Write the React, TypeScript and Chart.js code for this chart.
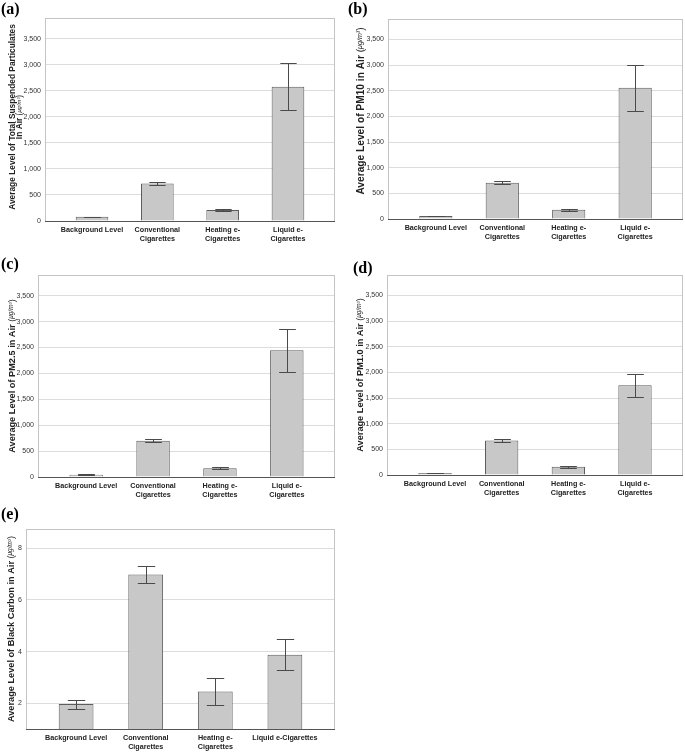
import React, { useEffect, useRef } from "react";
import { Chart, registerables } from "chart.js";
Chart.register(...registerables);

// ---------- data ----------
const categories = [["Background Level"], ["Conventional", "Cigarettes"], ["Heating e-", "Cigarettes"], ["Liquid e-", "Cigarettes"]];
const categoriesE = [["Background Level"], ["Conventional", "Cigarettes"], ["Heating e-", "Cigarettes"], ["Liquid e-Cigarettes"]];

const tspMean = [80, 720, 210, 2580];
const tspLow = [74, 685, 185, 2130];
const tspHigh = [86, 755, 235, 3030];

const pm10Mean = [58, 705, 180, 2560];
const pm10Low = [53, 675, 162, 2115];
const pm10High = [63, 737, 200, 3012];

const pm25Mean = [45, 698, 168, 2448];
const pm25Low = [40, 670, 146, 2025];
const pm25High = [50, 727, 190, 2858];

const pm1Mean = [38, 675, 160, 1750];
const pm1Low = [33, 648, 142, 1523];
const pm1High = [43, 700, 182, 1977];

const bcMean = [1.97, 6.99, 2.45, 3.88];
const bcLow = [1.79, 6.64, 1.92, 3.27];
const bcHigh = [2.14, 7.33, 2.98, 4.47];

const pmTicks = [0, 500, 1000, 1500, 2000, 2500, 3000, 3500];
const bcTicks = [2, 4, 6, 8];

const unitText = "μg/m³";

const FONT = "'Liberation Sans', Arial, sans-serif";

type PanelProps = {
  labels: string[][];
  mean: number[];
  low: number[];
  high: number[];
  yMin: number;
  yMax: number;
  yTicks: number[];
  cx: number; cy: number; cw: number; ch: number;
  L: number; T: number; R: number; B: number;
  title: string[];
  titleSize: number;
  titleGap: number;
  titleX: number;
  titleCY: number;
  letter: string;
  letterX: number;
  letterY: number;
};

function Panel(p: PanelProps) {
  const ref = useRef<HTMLCanvasElement | null>(null);
  useEffect(() => {
    const { cx, cy, cw, ch, L, T, R, B } = p;
    const errPlugin = {
      id: "errbars",
      afterDatasetsDraw(chart: any) {
        const ctx = chart.ctx;
        const meta = chart.getDatasetMeta(0);
        const y = chart.scales.y;
        ctx.save();
        ctx.strokeStyle = "#4a4a4a";
        ctx.lineWidth = 1;
        meta.data.forEach((bar: any, i: number) => {
          const x = Math.round(bar.x) + 0.5;
          const half = bar.width / 4;
          const yl = Math.round(y.getPixelForValue(p.low[i])) + 0.5;
          const yh = Math.round(y.getPixelForValue(p.high[i])) + 0.5;
          ctx.beginPath();
          ctx.moveTo(x, yh); ctx.lineTo(x, yl);
          ctx.moveTo(x - half, yh); ctx.lineTo(x + half, yh);
          ctx.moveTo(x - half, yl); ctx.lineTo(x + half, yl);
          ctx.stroke();
        });
        ctx.restore();
      },
    };
    const boxPlugin = {
      id: "box",
      afterDraw(chart: any) {
        const a = chart.chartArea;
        const ctx = chart.ctx;
        ctx.save();
        ctx.strokeStyle = "#c4c4c4";
        ctx.lineWidth = 1;
        ctx.strokeRect(Math.round(a.left) + 0.5, Math.round(a.top) + 0.5, Math.round(a.right - a.left) - 1, Math.round(a.bottom - a.top));
        ctx.strokeStyle = "#555";
        ctx.beginPath();
        ctx.moveTo(a.left, Math.round(a.bottom) + 0.5);
        ctx.lineTo(a.right, Math.round(a.bottom) + 0.5);
        ctx.stroke();
        // y title
        ctx.translate(p.titleX - cx, p.titleCY - cy);
        ctx.rotate(-Math.PI / 2);
        ctx.fillStyle = "#222";
        ctx.textBaseline = "middle";
        ctx.textAlign = "left";
        const s = p.titleSize;
        const mainFont = `bold ${s}px ${FONT}`;
        const parFont = `${s}px ${FONT}`;
        const uFont = `italic ${s * 0.7}px ${FONT}`;
        p.title.forEach((line, li) => {
          const last = li === p.title.length - 1;
          ctx.font = mainFont;
          const w1 = ctx.measureText(line + (last ? " " : "")).width;
          let w2 = 0, w3 = 0;
          if (last) {
            ctx.font = parFont; w2 = ctx.measureText("(").width * 2;
            ctx.font = uFont; w3 = ctx.measureText(unitText).width;
          }
          let x = -(w1 + w2 + w3) / 2;
          const yy = li * p.titleGap;
          ctx.font = mainFont;
          ctx.fillText(line + (last ? " " : ""), x, yy);
          x += w1;
          if (last) {
            ctx.font = parFont; ctx.fillText("(", x, yy); x += w2 / 2;
            ctx.font = uFont; ctx.fillText(unitText, x, yy - 0.5); x += w3;
            ctx.font = parFont; ctx.fillText(")", x, yy);
          }
        });
        ctx.restore();
      },
    };
    const chart = new Chart(ref.current as HTMLCanvasElement, {
      type: "bar",
      data: {
        datasets: [
          {
            data: p.mean.map((v, i) => ({ x: i, y: v })),
            backgroundColor: "#c8c8c8",
            borderColor: "#5c5c5c",
            borderWidth: 1,
            barPercentage: 0.5,
            categoryPercentage: 1,
            base: p.yMin,
          } as any,
        ],
      },
      options: {
        responsive: false,
        animation: false,
        devicePixelRatio: 1,
        layout: { padding: { top: T - cy, right: cx + cw - R, left: 0, bottom: 0 } },
        plugins: { legend: { display: false }, tooltip: { enabled: false } },
        scales: {
          x: {
            type: "linear",
            offset: false,
            min: -0.72,
            max: 3.72,
            afterBuildTicks: (s: any) => { s.ticks = p.labels.map((_, i) => ({ value: i })); },
            afterFit: (s: any) => { s.height = cy + ch - B; },
            grid: { display: false, drawTicks: false, offset: false },
            border: { display: false },
            ticks: {
              autoSkip: false,
              maxRotation: 0,
              padding: 4,
              color: "#222",
              font: { family: FONT, size: 7.2, weight: "bold", lineHeight: 1.3 },
              callback: (_v: any, i: number) => p.labels[i],
            },
          },
          y: {
            type: "linear",
            min: p.yMin,
            max: p.yMax,
            afterBuildTicks: (s: any) => { s.ticks = p.yTicks.map((v) => ({ value: v })); },
            afterFit: (s: any) => { s.width = L - cx; },
            grid: { color: "#dcdcdc", drawTicks: false },
            border: { display: false },
            ticks: {
              padding: 4,
              color: "#333",
              font: { family: FONT, size: 7 },
              callback: (v: any) => Number(v).toLocaleString("en-US"),
            },
          },
        },
      } as any,
      plugins: [errPlugin, boxPlugin],
    });
    return () => chart.destroy();
  }, []);
  return (
    <>
      <canvas
        ref={ref}
        width={p.cw}
        height={p.ch}
        style={{ position: "absolute", left: p.cx, top: p.cy, width: p.cw, height: p.ch }}
      />
      <div
        style={{
          position: "absolute",
          left: p.letterX,
          top: p.letterY,
          font: `bold 16px 'Liberation Serif', 'Times New Roman', serif`,
          lineHeight: "16px",
          color: "#000",
        }}
      >
        {p.letter}
      </div>
    </>
  );
}

export default function App() {
  return (
    <div style={{ position: "fixed", left: 0, top: 0, width: 685, height: 752, background: "#fff", overflow: "hidden" }}>
      <Panel labels={categories} mean={tspMean} low={tspLow} high={tspHigh} yMin={0} yMax={3900} yTicks={pmTicks}
        cx={0} cy={0} cw={340} ch={250} L={45} T={18} R={335} B={221}
        title={["Average Level of Total Suspended Particulates", "In Air"]} titleSize={8.4} titleGap={7.5} titleX={12.5} titleCY={117}
        letter="(a)" letterX={1} letterY={1} />
      <Panel labels={categories} mean={pm10Mean} low={pm10Low} high={pm10High} yMin={0} yMax={3900} yTicks={pmTicks}
        cx={340} cy={0} cw={345} ch={250} L={388} T={19} R={683} B={219}
        title={["Average Level of PM10 in Air"]} titleSize={10.2} titleGap={0} titleX={361} titleCY={111}
        letter="(b)" letterX={348} letterY={1} />
      <Panel labels={categories} mean={pm25Mean} low={pm25Low} high={pm25High} yMin={0} yMax={3900} yTicks={pmTicks}
        cx={0} cy={250} cw={340} ch={250} L={38} T={275} R={335} B={477}
        title={["Average Level of PM2.5 in Air"]} titleSize={9.2} titleGap={0} titleX={12} titleCY={376}
        letter="(c)" letterX={1} letterY={256} />
      <Panel labels={categories} mean={pm1Mean} low={pm1Low} high={pm1High} yMin={0} yMax={3900} yTicks={pmTicks}
        cx={340} cy={250} cw={345} ch={250} L={387} T={275} R={683} B={475}
        title={["Average Level of PM1.0 in Air"]} titleSize={9.2} titleGap={0} titleX={360} titleCY={375}
        letter="(d)" letterX={353} letterY={260} />
      <Panel labels={categoriesE} mean={bcMean} low={bcLow} high={bcHigh} yMin={1} yMax={8.75} yTicks={bcTicks}
        cx={0} cy={500} cw={340} ch={252} L={26} T={529} R={335} B={729}
        title={["Average Level of Black Carbon in Air"]} titleSize={9.2} titleGap={0} titleX={11} titleCY={629}
        letter="(e)" letterX={1} letterY={506} />
    </div>
  );
}
